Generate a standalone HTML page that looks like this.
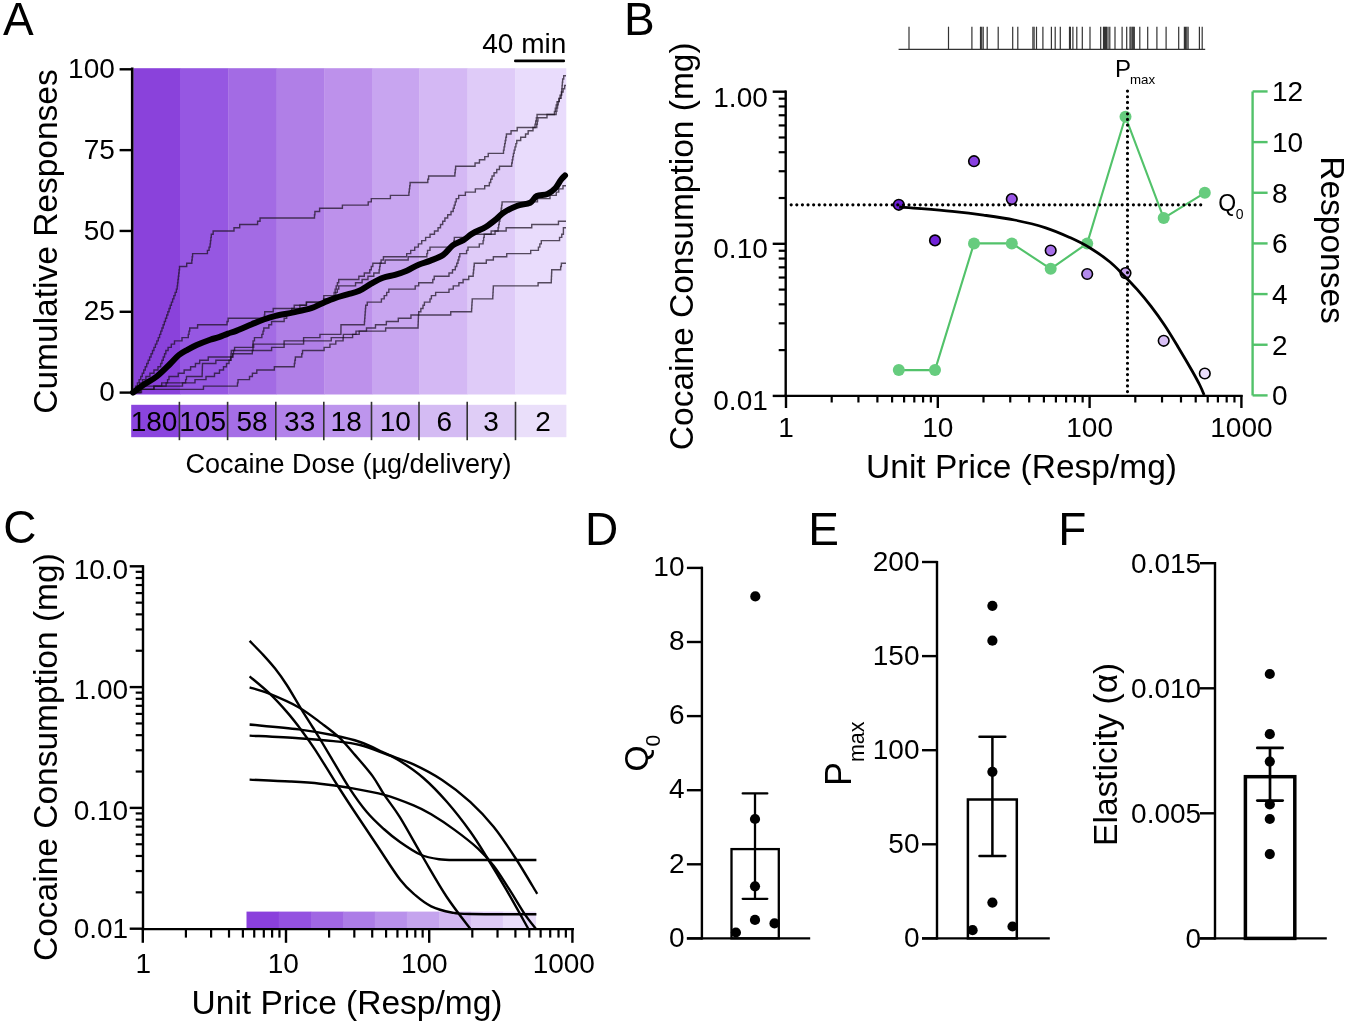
<!DOCTYPE html>
<html><head><meta charset="utf-8"><style>
html,body{margin:0;padding:0;background:#fff;overflow:hidden;}
svg{display:block;filter:blur(0.35px);}
text{font-family:"Liberation Sans",sans-serif;fill:#000;}
</style></head><body>
<svg width="1349" height="1026" viewBox="0 0 1349 1026">
<rect width="1349" height="1026" fill="#fff"/>
<text x="3.00" y="35.10" font-size="46" text-anchor="start" >A</text>
<rect x="133.40" y="68.2" width="46.90" height="326.3" fill="#8a42db"/>
<rect x="180.00" y="68.2" width="48.50" height="326.3" fill="#9657e2"/>
<rect x="228.20" y="68.2" width="48.70" height="326.3" fill="#a36be4"/>
<rect x="276.60" y="68.2" width="48.10" height="326.3" fill="#b07fe7"/>
<rect x="324.40" y="68.2" width="47.90" height="326.3" fill="#bd91eb"/>
<rect x="372.00" y="68.2" width="47.70" height="326.3" fill="#c8a5f0"/>
<rect x="419.40" y="68.2" width="48.40" height="326.3" fill="#d4b8f4"/>
<rect x="467.50" y="68.2" width="48.00" height="326.3" fill="#dfcbf8"/>
<rect x="515.20" y="68.2" width="51.10" height="326.3" fill="#e9dcfc"/>
<line x1="132.20" y1="67.50" x2="132.20" y2="394.50" stroke="#000" stroke-width="2.6" />
<line x1="119.60" y1="392.60" x2="133.00" y2="392.60" stroke="#000" stroke-width="2.4" />
<text x="114.80" y="401.20" font-size="28" text-anchor="end" >0</text>
<line x1="119.60" y1="311.78" x2="133.00" y2="311.78" stroke="#000" stroke-width="2.4" />
<text x="114.80" y="320.38" font-size="28" text-anchor="end" >25</text>
<line x1="119.60" y1="230.95" x2="133.00" y2="230.95" stroke="#000" stroke-width="2.4" />
<text x="114.80" y="239.55" font-size="28" text-anchor="end" >50</text>
<line x1="119.60" y1="150.13" x2="133.00" y2="150.13" stroke="#000" stroke-width="2.4" />
<text x="114.80" y="158.73" font-size="28" text-anchor="end" >75</text>
<line x1="119.60" y1="69.30" x2="133.00" y2="69.30" stroke="#000" stroke-width="2.4" />
<text x="114.80" y="77.90" font-size="28" text-anchor="end" >100</text>
<text x="566.30" y="53.10" font-size="28" text-anchor="end" >40 min</text>
<line x1="515.30" y1="60.90" x2="563.80" y2="60.90" stroke="#000" stroke-width="2.6" stroke-linecap="round"/>
<text transform="translate(57.1,241.5) rotate(-90)" font-size="33.5" text-anchor="middle">Cumulative Responses</text>
<rect x="131.20" y="404.8" width="48.50" height="32.4" fill="#8a44de"/>
<rect x="179.40" y="404.8" width="48.50" height="32.4" fill="#9a5ee4"/>
<rect x="227.60" y="404.8" width="48.50" height="32.4" fill="#a56ee6"/>
<rect x="275.80" y="404.8" width="48.30" height="32.4" fill="#b282ea"/>
<rect x="323.80" y="404.8" width="48.00" height="32.4" fill="#bd95ed"/>
<rect x="371.50" y="404.8" width="47.80" height="32.4" fill="#c8a8f0"/>
<rect x="419.00" y="404.8" width="48.50" height="32.4" fill="#d4bbf3"/>
<rect x="467.20" y="404.8" width="48.60" height="32.4" fill="#dfcdf6"/>
<rect x="515.50" y="404.8" width="50.90" height="32.4" fill="#eadffa"/>
<line x1="179.40" y1="401.80" x2="179.40" y2="440.20" stroke="#333" stroke-width="1.6" />
<line x1="227.60" y1="401.80" x2="227.60" y2="440.20" stroke="#333" stroke-width="1.6" />
<line x1="275.80" y1="401.80" x2="275.80" y2="440.20" stroke="#333" stroke-width="1.6" />
<line x1="323.80" y1="401.80" x2="323.80" y2="440.20" stroke="#333" stroke-width="1.6" />
<line x1="371.50" y1="401.80" x2="371.50" y2="440.20" stroke="#333" stroke-width="1.6" />
<line x1="419.00" y1="401.80" x2="419.00" y2="440.20" stroke="#333" stroke-width="1.6" />
<line x1="467.20" y1="401.80" x2="467.20" y2="440.20" stroke="#333" stroke-width="1.6" />
<line x1="515.50" y1="401.80" x2="515.50" y2="440.20" stroke="#333" stroke-width="1.6" />
<text x="154.00" y="431.20" font-size="28" text-anchor="middle" >180</text>
<text x="202.60" y="431.20" font-size="28" text-anchor="middle" >105</text>
<text x="252.00" y="431.20" font-size="28" text-anchor="middle" >58</text>
<text x="299.70" y="431.20" font-size="28" text-anchor="middle" >33</text>
<text x="346.20" y="431.20" font-size="28" text-anchor="middle" >18</text>
<text x="395.30" y="431.20" font-size="28" text-anchor="middle" >10</text>
<text x="444.40" y="431.20" font-size="28" text-anchor="middle" >6</text>
<text x="491.00" y="431.20" font-size="28" text-anchor="middle" >3</text>
<text x="543.00" y="431.20" font-size="28" text-anchor="middle" >2</text>
<text x="348.50" y="472.60" font-size="27" text-anchor="middle" >Cocaine Dose (µg/delivery)</text>
<path d="M133.00,392.60 H133.88 V389.37 H135.62 V386.13 H137.38 V382.90 H139.12 V379.67 H140.00 H140.75 V376.44 H142.25 V373.20 H143.75 V369.97 H145.25 V366.74 H146.00 H146.72 V363.50 H148.17 V360.27 H149.61 V357.04 H151.06 V353.80 H152.50 V350.57 H153.94 V347.34 H155.39 V344.11 H156.83 V340.87 H158.28 V337.64 H159.00 H159.59 V334.41 H160.77 V331.17 H161.95 V327.94 H163.14 V324.71 H164.32 V321.47 H165.50 V318.24 H166.68 V315.01 H167.86 V311.78 H169.05 V308.54 H170.23 V305.31 H171.41 V302.08 H172.00 H172.62 V298.84 H173.88 V295.61 H175.12 V292.38 H176.38 V289.14 H177.00 H177.19 V285.91 H177.58 V282.68 H177.96 V279.45 H178.35 V276.21 H178.74 V272.98 H179.12 V269.75 H179.51 V266.51 H179.70 H186.30 H186.70 V263.28 H187.10 H191.60 H191.80 V260.05 H192.20 V256.81 H192.60 V253.58 H192.80 H206.60 H207.43 V250.35 H209.07 V247.12 H209.90 H210.10 V243.88 H210.50 V240.65 H210.90 V237.42 H211.30 V234.18 H211.50 H213.15 V230.95 H214.80 H233.60 H234.00 V227.72 H234.40 H239.30 H239.70 V224.48 H240.10 H257.20 H257.60 V221.25 H258.00 H260.05 V218.02 H262.10 H314.30 H314.50 V214.79 H314.90 V211.55 H315.10 H319.20 H319.60 V208.32 H320.00 H342.00 H342.40 V205.09 H342.80 H367.40 H368.20 V201.85 H369.00 H371.30 V198.62 H373.60 H390.00 H390.40 V195.39 H390.80 H408.70 H408.90 V192.15 H409.30 V188.92 H409.70 V185.69 H410.10 V182.46 H410.30 H427.40 H427.80 V179.22 H428.60 V175.99 H429.00 H454.70 H454.88 V172.76 H455.25 V169.52 H455.62 V166.29 H455.80 H473.30 H475.05 V163.06 H476.80 H479.45 V159.82 H484.75 V156.59 H487.40 H488.25 V153.36 H489.10 H503.20 H503.49 V150.13 H504.07 V146.89 H504.66 V143.66 H505.24 V140.43 H505.82 V137.19 H506.41 V133.96 H506.70 H511.05 V130.73 H515.40 H517.20 V127.49 H519.00 H534.70 H535.04 V124.26 H535.71 V121.03 H536.39 V117.80 H537.06 V114.56 H537.40 H554.00 H554.44 V111.33 H555.31 V108.10 H556.19 V104.86 H557.06 V101.63 H557.50 H559.25 V98.40 H561.00 H561.15 V95.16 H561.45 V91.93 H561.75 V88.70 H562.05 V85.47 H562.35 V82.23 H562.65 V79.00 H562.80 H563.70 V75.77 H564.60 H566.00" fill="none" stroke="#1a1020" stroke-width="1.4" opacity="0.72"/>
<path d="M133.00,392.60 H134.36 V389.37 H137.09 V386.13 H139.81 V382.90 H142.54 V379.67 H143.90 H145.91 V376.44 H149.94 V373.20 H153.96 V369.97 H157.99 V366.74 H160.00 H160.65 V363.50 H161.95 V360.27 H163.25 V357.04 H164.55 V353.80 H165.85 V350.57 H166.50 H168.10 V347.34 H171.30 V344.11 H174.50 V340.87 H176.10 H182.00 V337.64 H187.90 H188.27 V334.41 H189.00 V331.17 H189.73 V327.94 H190.10 H197.60 V324.71 H205.10 H226.50 H227.05 V321.47 H228.15 V318.24 H228.70 H264.20 H264.38 V315.01 H264.72 V311.78 H264.90 H272.80 H273.20 V308.54 H273.60 H293.80 H294.20 V305.31 H294.60 H306.30 H306.50 V302.08 H306.70 H323.50 H323.60 V298.84 H323.80 V295.61 H323.90 H333.60 H334.12 V292.38 H335.15 V289.14 H336.18 V285.91 H336.70 H337.38 V282.68 H338.72 V279.45 H339.40 H358.10 H358.85 V276.21 H359.60 H364.30 V272.98 H369.00 H369.77 V269.75 H371.30 V266.51 H372.83 V263.28 H373.60 H379.90 H381.07 V260.05 H383.43 V256.81 H384.60 H404.70 H406.70 V253.58 H410.70 V250.35 H414.70 V247.12 H416.70 H418.38 V243.88 H421.72 V240.65 H423.40 H425.62 V237.42 H430.05 V234.18 H434.48 V230.95 H436.70 H438.05 V227.72 H439.40 H440.50 V224.48 H442.70 V221.25 H444.90 V218.02 H446.00 H447.68 V214.79 H451.02 V211.55 H452.70 H453.20 V208.32 H454.20 V205.09 H455.20 V201.85 H456.20 V198.62 H456.70 H458.70 V195.39 H460.70 H465.35 V192.15 H470.00 H475.35 V188.92 H480.70 H484.70 V185.69 H488.70 H489.37 V182.46 H490.70 V179.22 H492.03 V175.99 H492.70 H494.05 V172.76 H496.75 V169.52 H499.45 V166.29 H500.80 H511.40 H511.69 V163.06 H512.26 V159.82 H512.84 V156.59 H513.41 V153.36 H513.70 H514.14 V150.13 H515.01 V146.89 H515.89 V143.66 H516.76 V140.43 H517.20 H520.70 V137.19 H524.20 H525.53 V133.96 H528.17 V130.73 H529.50 H533.00 V127.49 H536.50 H536.78 V124.26 H537.35 V121.03 H537.92 V117.80 H538.20 H547.00 V114.56 H555.80 H556.15 V111.33 H556.85 V108.10 H557.55 V104.86 H558.25 V101.63 H558.95 V98.40 H559.30 H560.06 V95.16 H561.59 V91.93 H563.11 V88.70 H564.64 V85.47 H565.40 H566.00" fill="none" stroke="#1a1020" stroke-width="1.4" opacity="0.72"/>
<path d="M133.00,392.60 H135.72 V389.37 H141.18 V386.13 H143.90 H165.40 H166.12 V382.90 H167.55 V379.67 H168.98 V376.44 H169.70 H176.10 H178.25 V373.20 H180.40 H184.15 V369.97 H187.90 H190.60 V366.74 H193.30 H195.43 V363.50 H199.68 V360.27 H201.80 H208.25 V357.04 H214.70 H231.90 H232.43 V353.80 H233.50 V350.57 H234.57 V347.34 H235.10 H252.50 H252.70 V344.11 H253.10 V340.87 H253.30 H254.45 V337.64 H255.60 H261.10 H261.85 V334.41 H262.60 H263.00 V331.17 H263.80 V327.94 H264.20 H266.50 H268.85 V324.71 H271.20 H271.60 V321.47 H272.00 H282.90 H284.16 V318.24 H286.69 V315.01 H289.21 V311.78 H291.74 V308.54 H293.00 H293.80 H299.90 V305.31 H306.00 H306.35 V302.08 H306.70 H323.50 H323.70 V298.84 H323.90 H333.60 H334.34 V295.61 H335.81 V292.38 H337.29 V289.14 H338.76 V285.91 H339.50 H354.10 H355.55 V282.68 H357.00 H362.10 V279.45 H367.20 H367.95 V276.21 H368.70 H373.80 V272.98 H378.90 H379.15 V269.75 H379.65 V266.51 H380.15 V263.28 H380.40 H385.15 V260.05 H389.90 H408.20 V256.81 H426.50 H426.85 V253.58 H427.55 V250.35 H427.90 H430.00 V247.12 H432.10 H453.40 H453.58 V243.88 H453.95 V240.65 H454.32 V237.42 H454.50 H468.40 V234.18 H482.30 H484.50 H491.15 V230.95 H497.80 H498.09 V227.72 H498.66 V224.48 H499.24 V221.25 H499.81 V218.02 H500.10 H500.32 V214.79 H500.76 V211.55 H501.20 V208.32 H501.64 V205.09 H502.08 V201.85 H502.30 H514.50 H530.00 H537.50 V198.62 H545.00 H550.00 V195.39 H555.00 H556.25 V192.15 H558.75 V188.92 H560.00 H563.00 V185.69 H566.00" fill="none" stroke="#1a1020" stroke-width="1.4" opacity="0.72"/>
<path d="M133.00,392.60 H140.50 V389.37 H148.00 H154.00 V386.13 H160.00 H175.00 H182.50 V382.90 H190.00 H195.00 V379.67 H200.00 H206.00 V376.44 H212.00 H214.50 V373.20 H219.50 V369.97 H222.00 H223.50 V366.74 H226.50 V363.50 H228.00 H229.00 V360.27 H231.00 V357.04 H233.00 V353.80 H234.00 H252.00 H252.33 V350.57 H253.00 V347.34 H253.67 V344.11 H254.00 H283.70 H284.10 V340.87 H284.50 H303.20 H303.60 V337.64 H304.00 H319.60 H319.95 V334.41 H320.30 H340.90 H340.92 V331.17 H340.95 V327.94 H340.98 V324.71 H341.00 H364.30 H364.43 V321.47 H364.68 V318.24 H364.93 V315.01 H365.18 V311.78 H365.43 V308.54 H365.68 V305.31 H365.80 H367.25 V302.08 H368.70 H380.00 H381.40 V298.84 H384.20 V295.61 H385.60 H386.68 V292.38 H388.82 V289.14 H389.90 H391.30 H413.80 H415.20 V285.91 H416.60 H418.70 V282.68 H420.80 H432.10 H432.80 V279.45 H434.20 V276.21 H434.90 H447.60 H449.00 V272.98 H450.40 H452.50 V269.75 H454.60 H455.33 V266.51 H456.77 V263.28 H457.50 H457.97 V260.05 H458.90 V256.81 H459.83 V253.58 H460.30 H465.90 H466.60 V250.35 H468.00 V247.12 H468.70 H475.80 H479.30 V243.88 H482.80 H483.08 V240.65 H483.65 V237.42 H484.22 V234.18 H484.50 H495.05 V230.95 H505.60 H506.15 V227.72 H506.70 H531.20 H531.75 V224.48 H532.30 H557.90 H558.45 V221.25 H559.00 H566.00" fill="none" stroke="#1a1020" stroke-width="1.4" opacity="0.72"/>
<path d="M133.00,392.60 H141.50 V389.37 H150.00 H153.90 V386.13 H161.70 V382.90 H165.60 H185.20 H185.62 V379.67 H186.47 V376.44 H186.90 H202.10 H202.15 V373.20 H202.25 V369.97 H202.35 V366.74 H202.45 V363.50 H202.50 H215.40 H215.85 V360.27 H216.30 H230.50 H230.65 V357.04 H230.95 V353.80 H231.25 V350.57 H231.40 H252.50 H271.20 H271.60 V347.34 H272.00 H283.70 H284.10 V344.11 H284.50 H303.20 H303.60 V340.87 H304.00 H325.80 H331.25 V337.64 H336.70 H343.35 V334.41 H350.00 H356.00 V331.17 H362.00 H366.50 V327.94 H375.50 V324.71 H380.00 H386.35 V321.47 H392.70 H398.30 V318.24 H403.90 H410.95 V315.01 H418.00 H418.70 V311.78 H419.40 H420.85 V308.54 H422.30 H423.00 V305.31 H424.40 V302.08 H425.10 H429.30 H430.00 V298.84 H431.40 V295.61 H432.10 H435.65 V292.38 H439.20 H447.60 H449.00 V289.14 H450.40 H453.25 V285.91 H456.10 H458.90 V282.68 H461.70 H463.10 V279.45 H464.50 H468.75 V276.21 H473.00 H473.18 V272.98 H473.52 V269.75 H473.88 V266.51 H474.22 V263.28 H474.40 H485.60 H486.30 V260.05 H487.00 H493.35 V256.81 H499.70 H501.10 H506.75 V253.58 H512.40 H529.30 H530.70 V250.35 H532.10 H537.70 H538.42 V247.12 H539.85 V243.88 H541.28 V240.65 H542.00 H559.00 H559.55 V237.42 H560.10 H561.75 V234.18 H563.40 H563.40 V230.95 H563.40 V227.72 H563.40 H566.00" fill="none" stroke="#1a1020" stroke-width="1.4" opacity="0.72"/>
<path d="M133.00,392.60 H139.50 V389.37 H146.00 H202.90 H203.45 V386.13 H204.00 H237.20 H237.47 V382.90 H238.03 V379.67 H238.30 H248.80 H249.50 V376.44 H250.20 H252.40 V373.20 H256.80 V369.97 H259.00 H273.60 H274.35 V366.74 H275.10 H294.10 H294.35 V363.50 H294.85 V360.27 H295.35 V357.04 H295.60 H301.40 H301.77 V353.80 H302.52 V350.57 H302.90 H323.40 H324.10 V347.34 H324.80 H329.95 V344.11 H335.10 H335.80 V340.87 H336.50 H343.10 V337.64 H349.70 H352.60 V334.41 H355.50 H359.20 V331.17 H362.90 H380.00 H385.65 V327.94 H391.30 H418.00 H418.06 V324.71 H418.19 V321.47 H418.31 V318.24 H418.44 V315.01 H418.50 H450.40 H450.75 V311.78 H451.10 H471.50 H471.60 V308.54 H471.80 V305.31 H472.00 V302.08 H472.20 V298.84 H472.30 H492.70 H492.79 V295.61 H492.96 V292.38 H493.14 V289.14 H493.31 V285.91 H493.40 H537.70 H538.10 V282.68 H538.50 H551.20 H551.28 V279.45 H551.42 V276.21 H551.58 V272.98 H551.72 V269.75 H551.80 H560.30 H560.65 V266.51 H561.35 V263.28 H561.70 H566.00" fill="none" stroke="#1a1020" stroke-width="1.4" opacity="0.72"/>
<path d="M133.00,392.50 C134.72,391.25 139.35,387.67 143.30,385.00 C147.25,382.33 152.25,380.00 156.70,376.50 C161.15,373.00 166.30,367.58 170.00,364.00 C173.70,360.42 175.93,357.40 178.90,355.00 C181.87,352.60 184.83,351.25 187.80,349.60 C190.77,347.95 192.98,346.73 196.70,345.10 C200.42,343.47 206.38,341.13 210.10,339.80 C213.82,338.47 216.03,338.13 219.00,337.10 C221.97,336.07 224.93,334.68 227.90,333.60 C230.87,332.52 232.80,332.17 236.80,330.60 C240.80,329.03 247.42,326.05 251.90,324.20 C256.38,322.35 259.75,320.88 263.70,319.50 C267.65,318.12 270.65,317.08 275.60,315.90 C280.55,314.72 287.47,313.68 293.40,312.40 C299.33,311.12 306.27,309.78 311.20,308.20 C316.13,306.62 319.05,304.58 323.00,302.90 C326.95,301.22 330.82,299.52 334.90,298.10 C338.98,296.68 343.43,295.62 347.50,294.40 C351.57,293.18 355.35,292.58 359.30,290.80 C363.25,289.02 367.25,285.87 371.20,283.70 C375.15,281.53 379.05,279.28 383.00,277.80 C386.95,276.32 390.93,275.98 394.90,274.80 C398.87,273.62 402.85,272.38 406.80,270.70 C410.75,269.02 414.65,266.38 418.60,264.70 C422.55,263.02 426.37,262.27 430.50,260.60 C434.63,258.93 439.70,257.23 443.40,254.70 C447.10,252.17 449.37,247.83 452.70,245.40 C456.03,242.97 460.07,242.10 463.40,240.10 C466.73,238.10 468.92,235.63 472.70,233.40 C476.48,231.17 482.08,229.15 486.10,226.70 C490.12,224.25 493.92,221.03 496.80,218.70 C499.68,216.37 500.07,214.82 503.40,212.70 C506.73,210.58 512.35,207.67 516.80,206.00 C521.25,204.33 526.77,204.37 530.10,202.70 C533.43,201.03 533.90,197.45 536.80,196.00 C539.70,194.55 544.38,195.33 547.50,194.00 C550.62,192.67 553.28,190.33 555.50,188.00 C557.72,185.67 559.22,182.08 560.80,180.00 C562.38,177.92 564.30,176.25 565.00,175.50" fill="none" stroke="#000" stroke-width="6.0" stroke-linecap="round" stroke-linejoin="round" />
<text x="623.90" y="34.90" font-size="46" text-anchor="start" >B</text>
<line x1="898.60" y1="49.40" x2="1205.20" y2="49.40" stroke="#333" stroke-width="1.3" />
<line x1="909.00" y1="26.70" x2="909.00" y2="49.40" stroke="#333" stroke-width="1.2" />
<line x1="948.50" y1="26.70" x2="948.50" y2="49.40" stroke="#333" stroke-width="1.2" />
<line x1="971.90" y1="26.70" x2="971.90" y2="49.40" stroke="#333" stroke-width="1.2" />
<line x1="980.50" y1="26.70" x2="980.50" y2="49.40" stroke="#333" stroke-width="1.2" />
<line x1="981.70" y1="26.70" x2="981.70" y2="49.40" stroke="#333" stroke-width="1.2" />
<line x1="983.20" y1="26.70" x2="983.20" y2="49.40" stroke="#333" stroke-width="1.2" />
<line x1="987.20" y1="26.70" x2="987.20" y2="49.40" stroke="#333" stroke-width="1.2" />
<line x1="998.20" y1="26.70" x2="998.20" y2="49.40" stroke="#333" stroke-width="1.2" />
<line x1="1012.70" y1="26.70" x2="1012.70" y2="49.40" stroke="#333" stroke-width="1.2" />
<line x1="1017.80" y1="26.70" x2="1017.80" y2="49.40" stroke="#333" stroke-width="1.2" />
<line x1="1032.90" y1="26.70" x2="1032.90" y2="49.40" stroke="#333" stroke-width="1.2" />
<line x1="1034.10" y1="26.70" x2="1034.10" y2="49.40" stroke="#333" stroke-width="1.2" />
<line x1="1036.50" y1="26.70" x2="1036.50" y2="49.40" stroke="#333" stroke-width="1.2" />
<line x1="1042.90" y1="26.70" x2="1042.90" y2="49.40" stroke="#333" stroke-width="1.2" />
<line x1="1051.40" y1="26.70" x2="1051.40" y2="49.40" stroke="#333" stroke-width="1.2" />
<line x1="1055.20" y1="26.70" x2="1055.20" y2="49.40" stroke="#333" stroke-width="1.2" />
<line x1="1060.30" y1="26.70" x2="1060.30" y2="49.40" stroke="#333" stroke-width="1.2" />
<line x1="1069.50" y1="26.70" x2="1069.50" y2="49.40" stroke="#333" stroke-width="1.2" />
<line x1="1070.40" y1="26.70" x2="1070.40" y2="49.40" stroke="#333" stroke-width="1.2" />
<line x1="1072.90" y1="26.70" x2="1072.90" y2="49.40" stroke="#333" stroke-width="1.2" />
<line x1="1076.80" y1="26.70" x2="1076.80" y2="49.40" stroke="#333" stroke-width="1.2" />
<line x1="1082.30" y1="26.70" x2="1082.30" y2="49.40" stroke="#333" stroke-width="1.2" />
<line x1="1090.00" y1="26.70" x2="1090.00" y2="49.40" stroke="#333" stroke-width="1.2" />
<line x1="1100.70" y1="26.70" x2="1100.70" y2="49.40" stroke="#333" stroke-width="1.2" />
<line x1="1103.50" y1="26.70" x2="1103.50" y2="49.40" stroke="#333" stroke-width="1.2" />
<line x1="1104.50" y1="26.70" x2="1104.50" y2="49.40" stroke="#333" stroke-width="1.2" />
<line x1="1105.50" y1="26.70" x2="1105.50" y2="49.40" stroke="#333" stroke-width="1.2" />
<line x1="1106.50" y1="26.70" x2="1106.50" y2="49.40" stroke="#333" stroke-width="1.2" />
<line x1="1108.00" y1="26.70" x2="1108.00" y2="49.40" stroke="#333" stroke-width="1.2" />
<line x1="1109.80" y1="26.70" x2="1109.80" y2="49.40" stroke="#333" stroke-width="1.2" />
<line x1="1115.00" y1="26.70" x2="1115.00" y2="49.40" stroke="#333" stroke-width="1.2" />
<line x1="1122.10" y1="26.70" x2="1122.10" y2="49.40" stroke="#333" stroke-width="1.2" />
<line x1="1126.70" y1="26.70" x2="1126.70" y2="49.40" stroke="#333" stroke-width="1.2" />
<line x1="1130.00" y1="26.70" x2="1130.00" y2="49.40" stroke="#333" stroke-width="1.2" />
<line x1="1131.00" y1="26.70" x2="1131.00" y2="49.40" stroke="#333" stroke-width="1.2" />
<line x1="1132.30" y1="26.70" x2="1132.30" y2="49.40" stroke="#333" stroke-width="1.2" />
<line x1="1133.30" y1="26.70" x2="1133.30" y2="49.40" stroke="#333" stroke-width="1.2" />
<line x1="1134.30" y1="26.70" x2="1134.30" y2="49.40" stroke="#333" stroke-width="1.2" />
<line x1="1139.80" y1="26.70" x2="1139.80" y2="49.40" stroke="#333" stroke-width="1.2" />
<line x1="1147.70" y1="26.70" x2="1147.70" y2="49.40" stroke="#333" stroke-width="1.2" />
<line x1="1156.90" y1="26.70" x2="1156.90" y2="49.40" stroke="#333" stroke-width="1.2" />
<line x1="1166.10" y1="26.70" x2="1166.10" y2="49.40" stroke="#333" stroke-width="1.2" />
<line x1="1178.70" y1="26.70" x2="1178.70" y2="49.40" stroke="#333" stroke-width="1.2" />
<line x1="1184.40" y1="26.70" x2="1184.40" y2="49.40" stroke="#333" stroke-width="1.2" />
<line x1="1185.60" y1="26.70" x2="1185.60" y2="49.40" stroke="#333" stroke-width="1.2" />
<line x1="1186.80" y1="26.70" x2="1186.80" y2="49.40" stroke="#333" stroke-width="1.2" />
<line x1="1188.10" y1="26.70" x2="1188.10" y2="49.40" stroke="#333" stroke-width="1.2" />
<line x1="1199.40" y1="26.70" x2="1199.40" y2="49.40" stroke="#333" stroke-width="1.2" />
<line x1="1202.20" y1="26.70" x2="1202.20" y2="49.40" stroke="#333" stroke-width="1.2" />
<line x1="785.70" y1="90.60" x2="785.70" y2="397.00" stroke="#000" stroke-width="2.4" />
<line x1="772.70" y1="91.70" x2="786.00" y2="91.70" stroke="#000" stroke-width="2.4" />
<line x1="778.70" y1="198.01" x2="786.00" y2="198.01" stroke="#000" stroke-width="2.2" />
<line x1="778.70" y1="171.23" x2="786.00" y2="171.23" stroke="#000" stroke-width="2.2" />
<line x1="778.70" y1="152.23" x2="786.00" y2="152.23" stroke="#000" stroke-width="2.2" />
<line x1="778.70" y1="137.49" x2="786.00" y2="137.49" stroke="#000" stroke-width="2.2" />
<line x1="778.70" y1="125.44" x2="786.00" y2="125.44" stroke="#000" stroke-width="2.2" />
<line x1="778.70" y1="115.26" x2="786.00" y2="115.26" stroke="#000" stroke-width="2.2" />
<line x1="778.70" y1="106.44" x2="786.00" y2="106.44" stroke="#000" stroke-width="2.2" />
<line x1="778.70" y1="98.66" x2="786.00" y2="98.66" stroke="#000" stroke-width="2.2" />
<line x1="772.70" y1="243.80" x2="786.00" y2="243.80" stroke="#000" stroke-width="2.4" />
<line x1="778.70" y1="350.11" x2="786.00" y2="350.11" stroke="#000" stroke-width="2.2" />
<line x1="778.70" y1="323.33" x2="786.00" y2="323.33" stroke="#000" stroke-width="2.2" />
<line x1="778.70" y1="304.33" x2="786.00" y2="304.33" stroke="#000" stroke-width="2.2" />
<line x1="778.70" y1="289.59" x2="786.00" y2="289.59" stroke="#000" stroke-width="2.2" />
<line x1="778.70" y1="277.54" x2="786.00" y2="277.54" stroke="#000" stroke-width="2.2" />
<line x1="778.70" y1="267.36" x2="786.00" y2="267.36" stroke="#000" stroke-width="2.2" />
<line x1="778.70" y1="258.54" x2="786.00" y2="258.54" stroke="#000" stroke-width="2.2" />
<line x1="778.70" y1="250.76" x2="786.00" y2="250.76" stroke="#000" stroke-width="2.2" />
<line x1="772.70" y1="395.90" x2="786.00" y2="395.90" stroke="#000" stroke-width="2.4" />
<text x="767.80" y="106.70" font-size="28" text-anchor="end" >1.00</text>
<text x="767.80" y="258.30" font-size="28" text-anchor="end" >0.10</text>
<text x="767.80" y="409.70" font-size="28" text-anchor="end" >0.01</text>
<line x1="784.50" y1="395.90" x2="1242.60" y2="395.90" stroke="#000" stroke-width="2.4" />
<line x1="786.00" y1="395.00" x2="786.00" y2="408.00" stroke="#000" stroke-width="2.4" />
<line x1="831.70" y1="395.00" x2="831.70" y2="402.50" stroke="#000" stroke-width="2.2" />
<line x1="858.43" y1="395.00" x2="858.43" y2="402.50" stroke="#000" stroke-width="2.2" />
<line x1="877.39" y1="395.00" x2="877.39" y2="402.50" stroke="#000" stroke-width="2.2" />
<line x1="892.10" y1="395.00" x2="892.10" y2="402.50" stroke="#000" stroke-width="2.2" />
<line x1="904.12" y1="395.00" x2="904.12" y2="402.50" stroke="#000" stroke-width="2.2" />
<line x1="914.29" y1="395.00" x2="914.29" y2="402.50" stroke="#000" stroke-width="2.2" />
<line x1="923.09" y1="395.00" x2="923.09" y2="402.50" stroke="#000" stroke-width="2.2" />
<line x1="930.85" y1="395.00" x2="930.85" y2="402.50" stroke="#000" stroke-width="2.2" />
<line x1="937.80" y1="395.00" x2="937.80" y2="408.00" stroke="#000" stroke-width="2.4" />
<line x1="983.50" y1="395.00" x2="983.50" y2="402.50" stroke="#000" stroke-width="2.2" />
<line x1="1010.23" y1="395.00" x2="1010.23" y2="402.50" stroke="#000" stroke-width="2.2" />
<line x1="1029.19" y1="395.00" x2="1029.19" y2="402.50" stroke="#000" stroke-width="2.2" />
<line x1="1043.90" y1="395.00" x2="1043.90" y2="402.50" stroke="#000" stroke-width="2.2" />
<line x1="1055.92" y1="395.00" x2="1055.92" y2="402.50" stroke="#000" stroke-width="2.2" />
<line x1="1066.09" y1="395.00" x2="1066.09" y2="402.50" stroke="#000" stroke-width="2.2" />
<line x1="1074.89" y1="395.00" x2="1074.89" y2="402.50" stroke="#000" stroke-width="2.2" />
<line x1="1082.65" y1="395.00" x2="1082.65" y2="402.50" stroke="#000" stroke-width="2.2" />
<line x1="1089.60" y1="395.00" x2="1089.60" y2="408.00" stroke="#000" stroke-width="2.4" />
<line x1="1135.30" y1="395.00" x2="1135.30" y2="402.50" stroke="#000" stroke-width="2.2" />
<line x1="1162.03" y1="395.00" x2="1162.03" y2="402.50" stroke="#000" stroke-width="2.2" />
<line x1="1180.99" y1="395.00" x2="1180.99" y2="402.50" stroke="#000" stroke-width="2.2" />
<line x1="1195.70" y1="395.00" x2="1195.70" y2="402.50" stroke="#000" stroke-width="2.2" />
<line x1="1207.72" y1="395.00" x2="1207.72" y2="402.50" stroke="#000" stroke-width="2.2" />
<line x1="1217.89" y1="395.00" x2="1217.89" y2="402.50" stroke="#000" stroke-width="2.2" />
<line x1="1226.69" y1="395.00" x2="1226.69" y2="402.50" stroke="#000" stroke-width="2.2" />
<line x1="1234.45" y1="395.00" x2="1234.45" y2="402.50" stroke="#000" stroke-width="2.2" />
<line x1="1241.40" y1="395.00" x2="1241.40" y2="408.00" stroke="#000" stroke-width="2.4" />
<text x="786.00" y="437.40" font-size="28" text-anchor="middle" >1</text>
<text x="937.80" y="437.40" font-size="28" text-anchor="middle" >10</text>
<text x="1089.60" y="437.40" font-size="28" text-anchor="middle" >100</text>
<text x="1241.40" y="437.40" font-size="28" text-anchor="middle" >1000</text>
<text x="1021.50" y="478.30" font-size="33.5" text-anchor="middle" >Unit Price (Resp/mg)</text>
<text transform="translate(692.7,246.3) rotate(-90)" font-size="33.5" text-anchor="middle">Cocaine Consumption (mg)</text>
<line x1="1252.60" y1="91.50" x2="1252.60" y2="395.40" stroke="#52c26a" stroke-width="2.4" />
<line x1="1252.60" y1="395.40" x2="1267.60" y2="395.40" stroke="#52c26a" stroke-width="2.4" />
<text x="1272.00" y="405.20" font-size="28" text-anchor="start" >0</text>
<line x1="1252.60" y1="344.74" x2="1267.60" y2="344.74" stroke="#52c26a" stroke-width="2.4" />
<text x="1272.00" y="354.54" font-size="28" text-anchor="start" >2</text>
<line x1="1252.60" y1="294.08" x2="1267.60" y2="294.08" stroke="#52c26a" stroke-width="2.4" />
<text x="1272.00" y="303.88" font-size="28" text-anchor="start" >4</text>
<line x1="1252.60" y1="243.42" x2="1267.60" y2="243.42" stroke="#52c26a" stroke-width="2.4" />
<text x="1272.00" y="253.22" font-size="28" text-anchor="start" >6</text>
<line x1="1252.60" y1="192.76" x2="1267.60" y2="192.76" stroke="#52c26a" stroke-width="2.4" />
<text x="1272.00" y="202.56" font-size="28" text-anchor="start" >8</text>
<line x1="1252.60" y1="142.10" x2="1267.60" y2="142.10" stroke="#52c26a" stroke-width="2.4" />
<text x="1272.00" y="151.90" font-size="28" text-anchor="start" >10</text>
<line x1="1252.60" y1="91.44" x2="1267.60" y2="91.44" stroke="#52c26a" stroke-width="2.4" />
<text x="1272.00" y="101.24" font-size="28" text-anchor="start" >12</text>
<text transform="translate(1320.9,240) rotate(90)" font-size="33.5" text-anchor="middle">Responses</text>
<text x="1114.90" y="76.80" font-size="24" text-anchor="start" >P</text>
<text x="1130.00" y="84.10" font-size="13.3" text-anchor="start" >max</text>
<text x="1218.20" y="210.90" font-size="23" text-anchor="start" >Q</text>
<text x="1235.70" y="218.50" font-size="14" text-anchor="start" >0</text>
<polyline points="898.8,370.1 935.0,370.1 974.0,243.4 1011.8,243.4 1050.7,268.8 1087.2,243.4 1125.5,116.8 1163.7,218.1 1204.8,192.8" fill="none" stroke="#52c26a" stroke-width="2.1" stroke-linejoin="round" />
<circle cx="898.8" cy="370.1" r="6.0" fill="#66cc7e"/>
<circle cx="935.0" cy="370.1" r="6.0" fill="#66cc7e"/>
<circle cx="974.0" cy="243.4" r="6.0" fill="#66cc7e"/>
<circle cx="1011.8" cy="243.4" r="6.0" fill="#66cc7e"/>
<circle cx="1050.7" cy="268.8" r="6.0" fill="#66cc7e"/>
<circle cx="1087.2" cy="243.4" r="6.0" fill="#66cc7e"/>
<circle cx="1125.5" cy="116.8" r="6.0" fill="#66cc7e"/>
<circle cx="1163.7" cy="218.1" r="6.0" fill="#66cc7e"/>
<circle cx="1204.8" cy="192.8" r="6.0" fill="#66cc7e"/>
<circle cx="898.8" cy="204.8" r="5.3" fill="#6b1fd6" stroke="#000" stroke-width="1.6"/>
<circle cx="935.0" cy="240.4" r="5.3" fill="#7122d8" stroke="#000" stroke-width="1.6"/>
<circle cx="974.0" cy="161.2" r="5.3" fill="#8840e0" stroke="#000" stroke-width="1.6"/>
<circle cx="1011.8" cy="199.1" r="5.3" fill="#9a56e6" stroke="#000" stroke-width="1.6"/>
<circle cx="1050.7" cy="250.5" r="5.3" fill="#a770e9" stroke="#000" stroke-width="1.6"/>
<circle cx="1087.2" cy="274.0" r="5.3" fill="#b38aed" stroke="#000" stroke-width="1.6"/>
<circle cx="1125.5" cy="273.1" r="5.3" fill="#c8a2f1" stroke="#000" stroke-width="1.6"/>
<circle cx="1163.7" cy="340.8" r="5.3" fill="#d9c0f6" stroke="#000" stroke-width="1.6"/>
<circle cx="1204.8" cy="373.5" r="5.3" fill="#ebdefb" stroke="#000" stroke-width="1.6"/>
<path d="M899.20,207.00 C902.83,207.27 912.15,207.87 921.00,208.60 C929.85,209.33 941.90,210.32 952.30,211.40 C962.70,212.48 973.03,213.67 983.40,215.10 C993.77,216.53 1004.12,217.88 1014.50,220.00 C1024.88,222.12 1036.45,224.87 1045.70,227.80 C1054.95,230.73 1062.53,234.20 1070.00,237.60 C1077.47,241.00 1083.83,244.13 1090.50,248.20 C1097.17,252.27 1104.48,257.50 1110.00,262.00 C1115.52,266.50 1119.05,270.58 1123.60,275.20 C1128.15,279.82 1132.75,284.53 1137.30,289.70 C1141.85,294.87 1146.35,300.27 1150.90,306.20 C1155.45,312.13 1160.05,318.47 1164.60,325.30 C1169.15,332.13 1173.65,339.67 1178.20,347.20 C1182.75,354.73 1188.27,364.12 1191.90,370.50 C1195.53,376.88 1197.97,381.42 1200.00,385.50 C1202.03,389.58 1203.42,393.42 1204.10,395.00" fill="none" stroke="#000" stroke-width="2.8" stroke-linecap="butt" stroke-linejoin="round" />
<line x1="791.2" y1="204.8" x2="1204" y2="204.8" stroke="#000" stroke-width="3.2" stroke-dasharray="0 5.61" stroke-linecap="round"/>
<line x1="1127.5" y1="91.1" x2="1127.5" y2="394" stroke="#000" stroke-width="3.2" stroke-dasharray="0 5.67" stroke-linecap="round"/>
<text x="3.20" y="543.10" font-size="46" text-anchor="start" >C</text>
<rect x="246.50" y="911.6" width="32.60" height="17" fill="#8a40dc"/>
<rect x="278.80" y="911.6" width="32.40" height="17" fill="#9452e0"/>
<rect x="310.90" y="911.6" width="32.40" height="17" fill="#a067e3"/>
<rect x="343.00" y="911.6" width="32.10" height="17" fill="#ac7de7"/>
<rect x="374.80" y="911.6" width="32.40" height="17" fill="#b991eb"/>
<rect x="406.90" y="911.6" width="32.40" height="17" fill="#c5a4ee"/>
<rect x="439.00" y="911.6" width="32.10" height="17" fill="#d2b8f2"/>
<rect x="470.80" y="911.6" width="32.40" height="17" fill="#decbf6"/>
<rect x="502.90" y="911.6" width="33.20" height="17" fill="#e9ddfa"/>
<line x1="143.00" y1="565.20" x2="143.00" y2="930.30" stroke="#000" stroke-width="2.4" />
<line x1="129.70" y1="566.30" x2="143.50" y2="566.30" stroke="#000" stroke-width="2.4" />
<line x1="135.70" y1="650.74" x2="143.50" y2="650.74" stroke="#000" stroke-width="2.2" />
<line x1="135.70" y1="629.46" x2="143.50" y2="629.46" stroke="#000" stroke-width="2.2" />
<line x1="135.70" y1="614.37" x2="143.50" y2="614.37" stroke="#000" stroke-width="2.2" />
<line x1="135.70" y1="602.66" x2="143.50" y2="602.66" stroke="#000" stroke-width="2.2" />
<line x1="135.70" y1="593.10" x2="143.50" y2="593.10" stroke="#000" stroke-width="2.2" />
<line x1="135.70" y1="585.01" x2="143.50" y2="585.01" stroke="#000" stroke-width="2.2" />
<line x1="135.70" y1="578.01" x2="143.50" y2="578.01" stroke="#000" stroke-width="2.2" />
<line x1="135.70" y1="571.83" x2="143.50" y2="571.83" stroke="#000" stroke-width="2.2" />
<line x1="129.70" y1="687.10" x2="143.50" y2="687.10" stroke="#000" stroke-width="2.4" />
<line x1="135.70" y1="771.54" x2="143.50" y2="771.54" stroke="#000" stroke-width="2.2" />
<line x1="135.70" y1="750.26" x2="143.50" y2="750.26" stroke="#000" stroke-width="2.2" />
<line x1="135.70" y1="735.17" x2="143.50" y2="735.17" stroke="#000" stroke-width="2.2" />
<line x1="135.70" y1="723.46" x2="143.50" y2="723.46" stroke="#000" stroke-width="2.2" />
<line x1="135.70" y1="713.90" x2="143.50" y2="713.90" stroke="#000" stroke-width="2.2" />
<line x1="135.70" y1="705.81" x2="143.50" y2="705.81" stroke="#000" stroke-width="2.2" />
<line x1="135.70" y1="698.81" x2="143.50" y2="698.81" stroke="#000" stroke-width="2.2" />
<line x1="135.70" y1="692.63" x2="143.50" y2="692.63" stroke="#000" stroke-width="2.2" />
<line x1="129.70" y1="807.90" x2="143.50" y2="807.90" stroke="#000" stroke-width="2.4" />
<line x1="135.70" y1="892.34" x2="143.50" y2="892.34" stroke="#000" stroke-width="2.2" />
<line x1="135.70" y1="871.06" x2="143.50" y2="871.06" stroke="#000" stroke-width="2.2" />
<line x1="135.70" y1="855.97" x2="143.50" y2="855.97" stroke="#000" stroke-width="2.2" />
<line x1="135.70" y1="844.26" x2="143.50" y2="844.26" stroke="#000" stroke-width="2.2" />
<line x1="135.70" y1="834.70" x2="143.50" y2="834.70" stroke="#000" stroke-width="2.2" />
<line x1="135.70" y1="826.61" x2="143.50" y2="826.61" stroke="#000" stroke-width="2.2" />
<line x1="135.70" y1="819.61" x2="143.50" y2="819.61" stroke="#000" stroke-width="2.2" />
<line x1="135.70" y1="813.43" x2="143.50" y2="813.43" stroke="#000" stroke-width="2.2" />
<line x1="129.70" y1="928.70" x2="143.50" y2="928.70" stroke="#000" stroke-width="2.4" />
<text x="128.20" y="578.60" font-size="28" text-anchor="end" >10.0</text>
<text x="128.20" y="698.70" font-size="28" text-anchor="end" >1.00</text>
<text x="128.20" y="819.60" font-size="28" text-anchor="end" >0.10</text>
<text x="128.20" y="937.60" font-size="28" text-anchor="end" >0.01</text>
<line x1="141.80" y1="929.10" x2="574.00" y2="929.10" stroke="#000" stroke-width="2.4" />
<line x1="142.80" y1="928.00" x2="142.80" y2="942.80" stroke="#000" stroke-width="2.4" />
<line x1="185.91" y1="928.00" x2="185.91" y2="937.60" stroke="#000" stroke-width="2.2" />
<line x1="211.12" y1="928.00" x2="211.12" y2="937.60" stroke="#000" stroke-width="2.2" />
<line x1="229.01" y1="928.00" x2="229.01" y2="937.60" stroke="#000" stroke-width="2.2" />
<line x1="242.89" y1="928.00" x2="242.89" y2="937.60" stroke="#000" stroke-width="2.2" />
<line x1="254.23" y1="928.00" x2="254.23" y2="937.60" stroke="#000" stroke-width="2.2" />
<line x1="263.82" y1="928.00" x2="263.82" y2="937.60" stroke="#000" stroke-width="2.2" />
<line x1="272.12" y1="928.00" x2="272.12" y2="937.60" stroke="#000" stroke-width="2.2" />
<line x1="279.45" y1="928.00" x2="279.45" y2="937.60" stroke="#000" stroke-width="2.2" />
<line x1="286.00" y1="928.00" x2="286.00" y2="942.80" stroke="#000" stroke-width="2.4" />
<line x1="329.11" y1="928.00" x2="329.11" y2="937.60" stroke="#000" stroke-width="2.2" />
<line x1="354.32" y1="928.00" x2="354.32" y2="937.60" stroke="#000" stroke-width="2.2" />
<line x1="372.21" y1="928.00" x2="372.21" y2="937.60" stroke="#000" stroke-width="2.2" />
<line x1="386.09" y1="928.00" x2="386.09" y2="937.60" stroke="#000" stroke-width="2.2" />
<line x1="397.43" y1="928.00" x2="397.43" y2="937.60" stroke="#000" stroke-width="2.2" />
<line x1="407.02" y1="928.00" x2="407.02" y2="937.60" stroke="#000" stroke-width="2.2" />
<line x1="415.32" y1="928.00" x2="415.32" y2="937.60" stroke="#000" stroke-width="2.2" />
<line x1="422.65" y1="928.00" x2="422.65" y2="937.60" stroke="#000" stroke-width="2.2" />
<line x1="429.20" y1="928.00" x2="429.20" y2="942.80" stroke="#000" stroke-width="2.4" />
<line x1="472.31" y1="928.00" x2="472.31" y2="937.60" stroke="#000" stroke-width="2.2" />
<line x1="497.52" y1="928.00" x2="497.52" y2="937.60" stroke="#000" stroke-width="2.2" />
<line x1="515.41" y1="928.00" x2="515.41" y2="937.60" stroke="#000" stroke-width="2.2" />
<line x1="529.29" y1="928.00" x2="529.29" y2="937.60" stroke="#000" stroke-width="2.2" />
<line x1="540.63" y1="928.00" x2="540.63" y2="937.60" stroke="#000" stroke-width="2.2" />
<line x1="550.22" y1="928.00" x2="550.22" y2="937.60" stroke="#000" stroke-width="2.2" />
<line x1="558.52" y1="928.00" x2="558.52" y2="937.60" stroke="#000" stroke-width="2.2" />
<line x1="565.85" y1="928.00" x2="565.85" y2="937.60" stroke="#000" stroke-width="2.2" />
<line x1="572.40" y1="928.00" x2="572.40" y2="942.80" stroke="#000" stroke-width="2.4" />
<text x="143.20" y="972.60" font-size="28" text-anchor="middle" >1</text>
<text x="283.30" y="972.60" font-size="28" text-anchor="middle" >10</text>
<text x="424.30" y="972.60" font-size="28" text-anchor="middle" >100</text>
<text x="563.80" y="972.60" font-size="28" text-anchor="middle" >1000</text>
<text x="347.00" y="1014.20" font-size="33.5" text-anchor="middle" >Unit Price (Resp/mg)</text>
<text transform="translate(56.8,757.1) rotate(-90)" font-size="33.5" text-anchor="middle">Cocaine Consumption (mg)</text>
<path d="M249.60,640.90 C251.90,643.27 259.15,650.48 263.40,655.10 C267.65,659.72 271.20,663.62 275.10,668.60 C279.00,673.58 282.52,678.37 286.80,685.00 C291.08,691.63 296.52,701.40 300.80,708.40 C305.08,715.40 309.30,721.90 312.50,727.00 C315.70,732.10 316.80,733.73 320.00,739.00 C323.20,744.27 326.83,750.47 331.70,758.60 C336.57,766.73 343.35,778.90 349.20,787.80 C355.05,796.70 361.03,805.13 366.80,812.00 C372.57,818.87 378.27,824.00 383.80,829.00 C389.33,834.00 393.92,837.75 400.00,842.00 C406.08,846.25 413.80,851.63 420.30,854.50 C426.80,857.37 432.38,858.28 439.00,859.20 C445.62,860.12 449.83,859.87 460.00,860.00 C470.17,860.13 487.27,860.00 500.00,860.00 C512.73,860.00 530.33,860.00 536.40,860.00" fill="none" stroke="#000" stroke-width="2.4" stroke-linecap="butt" stroke-linejoin="round" />
<path d="M249.60,676.40 C252.87,679.20 263.00,687.28 269.20,693.20 C275.40,699.12 281.53,705.87 286.80,711.90 C292.07,717.93 296.12,723.17 300.80,729.40 C305.48,735.63 308.78,739.95 314.90,749.30 C321.02,758.65 331.08,775.38 337.50,785.50 C343.92,795.62 346.85,800.08 353.40,810.00 C359.95,819.92 369.00,833.37 376.80,845.00 C384.60,856.63 393.73,871.40 400.20,879.80 C406.67,888.20 410.43,890.98 415.60,895.40 C420.77,899.82 425.22,903.45 431.20,906.30 C437.18,909.15 445.03,911.22 451.50,912.50 C457.97,913.78 455.85,913.72 470.00,914.00 C484.15,914.28 525.33,914.17 536.40,914.20" fill="none" stroke="#000" stroke-width="2.4" stroke-linecap="butt" stroke-linejoin="round" />
<path d="M249.60,687.30 C252.87,688.37 261.05,690.38 269.20,693.70 C277.35,697.02 289.72,702.22 298.50,707.20 C307.28,712.18 315.08,718.53 321.90,723.60 C328.72,728.67 333.87,732.35 339.40,737.60 C344.93,742.85 349.57,748.68 355.10,755.10 C360.63,761.52 367.73,769.47 372.60,776.10 C377.47,782.73 379.73,788.02 384.30,794.90 C388.87,801.78 393.48,806.88 400.00,817.40 C406.52,827.92 415.60,844.73 423.40,858.00 C431.20,871.27 438.97,885.17 446.80,897.00 C454.63,908.83 466.47,923.67 470.40,929.00" fill="none" stroke="#000" stroke-width="2.4" stroke-linecap="butt" stroke-linejoin="round" />
<path d="M249.60,724.50 C257.75,725.32 284.50,727.60 298.50,729.40 C312.50,731.20 323.35,733.20 333.60,735.30 C343.85,737.40 352.02,739.30 360.00,742.00 C367.98,744.70 374.83,748.33 381.50,751.50 C388.17,754.67 393.02,756.58 400.00,761.00 C406.98,765.42 415.60,771.20 423.40,778.00 C431.20,784.80 439.00,792.88 446.80,801.80 C454.60,810.72 463.45,822.13 470.20,831.50 C476.95,840.87 481.33,848.38 487.30,858.00 C493.27,867.62 499.15,877.37 506.00,889.20 C512.85,901.03 524.67,922.37 528.40,929.00" fill="none" stroke="#000" stroke-width="2.4" stroke-linecap="butt" stroke-linejoin="round" />
<path d="M249.60,735.60 C257.75,736.03 284.50,737.28 298.50,738.20 C312.50,739.12 323.35,739.97 333.60,741.10 C343.85,742.23 350.85,742.68 360.00,745.00 C369.15,747.32 379.57,751.77 388.50,755.00 C397.43,758.23 404.67,760.23 413.60,764.40 C422.53,768.57 432.67,773.77 442.10,780.00 C451.53,786.23 461.62,794.00 470.20,801.80 C478.78,809.60 486.07,817.43 493.60,826.80 C501.13,836.17 508.13,846.83 515.40,858.00 C522.67,869.17 533.57,887.83 537.20,893.80" fill="none" stroke="#000" stroke-width="2.4" stroke-linecap="butt" stroke-linejoin="round" />
<path d="M249.60,779.60 C256.33,779.92 278.27,780.82 290.00,781.50 C301.73,782.18 310.13,782.65 320.00,783.70 C329.87,784.75 338.48,785.93 349.20,787.80 C359.92,789.67 373.57,791.97 384.30,794.90 C395.03,797.83 405.78,802.17 413.60,805.40 C421.42,808.63 424.37,810.22 431.20,814.30 C438.03,818.38 446.80,824.18 454.60,829.90 C462.40,835.62 471.50,842.62 478.00,848.60 C484.50,854.58 488.40,859.03 493.60,865.80 C498.80,872.57 504.02,881.15 509.20,889.20 C514.38,897.25 520.17,907.40 524.70,914.10 C529.23,920.80 534.45,926.85 536.40,929.40" fill="none" stroke="#000" stroke-width="2.4" stroke-linecap="butt" stroke-linejoin="round" />
<text x="585.00" y="544.90" font-size="46" text-anchor="start" >D</text>
<line x1="701.90" y1="566.80" x2="701.90" y2="939.50" stroke="#000" stroke-width="2.4" />
<line x1="686.90" y1="938.40" x2="702.40" y2="938.40" stroke="#000" stroke-width="2.4" />
<text x="684.50" y="946.60" font-size="28" text-anchor="end" >0</text>
<line x1="686.90" y1="864.30" x2="702.40" y2="864.30" stroke="#000" stroke-width="2.4" />
<text x="684.50" y="872.50" font-size="28" text-anchor="end" >2</text>
<line x1="686.90" y1="790.20" x2="702.40" y2="790.20" stroke="#000" stroke-width="2.4" />
<text x="684.50" y="798.40" font-size="28" text-anchor="end" >4</text>
<line x1="686.90" y1="716.10" x2="702.40" y2="716.10" stroke="#000" stroke-width="2.4" />
<text x="684.50" y="724.30" font-size="28" text-anchor="end" >6</text>
<line x1="686.90" y1="642.00" x2="702.40" y2="642.00" stroke="#000" stroke-width="2.4" />
<text x="684.50" y="650.20" font-size="28" text-anchor="end" >8</text>
<line x1="686.90" y1="567.90" x2="702.40" y2="567.90" stroke="#000" stroke-width="2.4" />
<text x="684.50" y="576.10" font-size="28" text-anchor="end" >10</text>
<line x1="686.90" y1="938.40" x2="810.20" y2="938.40" stroke="#000" stroke-width="2.4" />
<rect x="731.5" y="849.1" width="47.3" height="89.3" fill="none" stroke="#000" stroke-width="2.3"/>
<line x1="755.00" y1="793.40" x2="755.00" y2="898.80" stroke="#000" stroke-width="2.3" />
<line x1="742.70" y1="793.40" x2="767.30" y2="793.40" stroke="#000" stroke-width="2.3" stroke-linecap="round"/>
<line x1="742.70" y1="898.80" x2="767.30" y2="898.80" stroke="#000" stroke-width="2.3" stroke-linecap="round"/>
<circle cx="755.3" cy="596.4" r="5.1" fill="#000"/>
<circle cx="755.0" cy="819.0" r="5.1" fill="#000"/>
<circle cx="755.0" cy="886.3" r="5.1" fill="#000"/>
<circle cx="755.0" cy="919.9" r="5.1" fill="#000"/>
<circle cx="774.5" cy="923.4" r="5.1" fill="#000"/>
<circle cx="735.9" cy="932.5" r="5.1" fill="#000"/>
<text x="808.30" y="544.90" font-size="46" text-anchor="start" >E</text>
<line x1="937.00" y1="560.90" x2="937.00" y2="939.50" stroke="#000" stroke-width="2.4" />
<line x1="922.00" y1="938.40" x2="937.50" y2="938.40" stroke="#000" stroke-width="2.4" />
<text x="919.50" y="947.20" font-size="28" text-anchor="end" >0</text>
<line x1="922.00" y1="844.30" x2="937.50" y2="844.30" stroke="#000" stroke-width="2.4" />
<text x="919.50" y="853.10" font-size="28" text-anchor="end" >50</text>
<line x1="922.00" y1="750.20" x2="937.50" y2="750.20" stroke="#000" stroke-width="2.4" />
<text x="919.50" y="759.00" font-size="28" text-anchor="end" >100</text>
<line x1="922.00" y1="656.10" x2="937.50" y2="656.10" stroke="#000" stroke-width="2.4" />
<text x="919.50" y="664.90" font-size="28" text-anchor="end" >150</text>
<line x1="922.00" y1="562.00" x2="937.50" y2="562.00" stroke="#000" stroke-width="2.4" />
<text x="919.50" y="570.80" font-size="28" text-anchor="end" >200</text>
<line x1="922.00" y1="938.40" x2="1049.80" y2="938.40" stroke="#000" stroke-width="2.4" />
<rect x="967.9" y="799.5" width="48.9" height="138.9" fill="none" stroke="#000" stroke-width="2.5"/>
<line x1="992.40" y1="736.80" x2="992.40" y2="856.10" stroke="#000" stroke-width="2.5" />
<line x1="979.50" y1="736.80" x2="1005.30" y2="736.80" stroke="#000" stroke-width="2.5" stroke-linecap="round"/>
<line x1="979.50" y1="856.10" x2="1005.30" y2="856.10" stroke="#000" stroke-width="2.5" stroke-linecap="round"/>
<circle cx="992.4" cy="605.8" r="5.1" fill="#000"/>
<circle cx="992.4" cy="640.7" r="5.1" fill="#000"/>
<circle cx="992.4" cy="771.8" r="5.1" fill="#000"/>
<circle cx="992.4" cy="902.6" r="5.1" fill="#000"/>
<circle cx="972.6" cy="930.2" r="5.1" fill="#000"/>
<circle cx="1012.5" cy="926.5" r="5.1" fill="#000"/>
<text x="1058.30" y="544.90" font-size="46" text-anchor="start" >F</text>
<line x1="1215.00" y1="562.10" x2="1215.00" y2="939.50" stroke="#000" stroke-width="2.4" />
<line x1="1200.00" y1="938.40" x2="1215.50" y2="938.40" stroke="#000" stroke-width="2.4" />
<text x="1201.20" y="948.20" font-size="28" text-anchor="end" >0</text>
<line x1="1200.00" y1="813.30" x2="1215.50" y2="813.30" stroke="#000" stroke-width="2.4" />
<text x="1201.20" y="823.10" font-size="28" text-anchor="end" >0.005</text>
<line x1="1200.00" y1="688.30" x2="1215.50" y2="688.30" stroke="#000" stroke-width="2.4" />
<text x="1201.20" y="698.10" font-size="28" text-anchor="end" >0.010</text>
<line x1="1200.00" y1="563.20" x2="1215.50" y2="563.20" stroke="#000" stroke-width="2.4" />
<text x="1201.20" y="573.00" font-size="28" text-anchor="end" >0.015</text>
<line x1="1200.00" y1="938.40" x2="1326.80" y2="938.40" stroke="#000" stroke-width="2.4" />
<rect x="1245.4" y="776.7" width="49.4" height="161.7" fill="none" stroke="#000" stroke-width="3.5"/>
<line x1="1270.00" y1="747.90" x2="1270.00" y2="800.60" stroke="#000" stroke-width="2.7" />
<line x1="1257.30" y1="747.90" x2="1282.70" y2="747.90" stroke="#000" stroke-width="2.7" stroke-linecap="round"/>
<line x1="1257.30" y1="800.60" x2="1282.70" y2="800.60" stroke="#000" stroke-width="2.7" stroke-linecap="round"/>
<circle cx="1269.8" cy="674.0" r="5.1" fill="#000"/>
<circle cx="1269.8" cy="734.2" r="5.1" fill="#000"/>
<circle cx="1269.8" cy="761.6" r="5.1" fill="#000"/>
<circle cx="1269.8" cy="804.4" r="5.1" fill="#000"/>
<circle cx="1269.8" cy="819.0" r="5.1" fill="#000"/>
<circle cx="1269.8" cy="854.1" r="5.1" fill="#000"/>
<text transform="translate(648.4,771.6) rotate(-90)" font-size="33.5">Q</text>
<text transform="translate(659.5,746.5) rotate(-90)" font-size="21">0</text>
<text transform="translate(851.0,786.0) rotate(-90)" font-size="36">P</text>
<text transform="translate(864.3,762.1) rotate(-90)" font-size="21.5">max</text>
<text transform="translate(1117.0,754.3) rotate(-90)" font-size="33.5" text-anchor="middle">Elasticity (α)</text>
</svg></body></html>
